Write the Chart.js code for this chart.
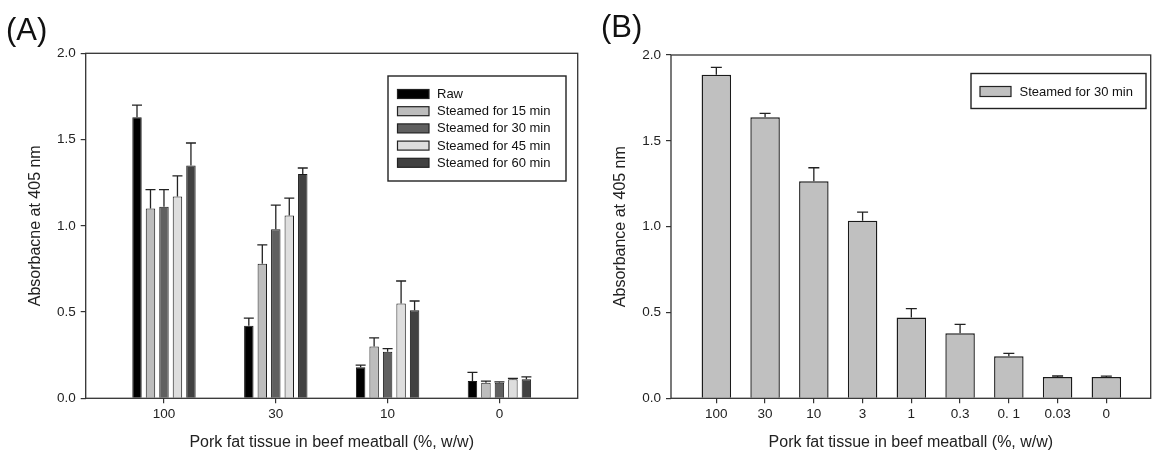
<!DOCTYPE html>
<html>
<head>
<meta charset="utf-8">
<script src="https://cdn.jsdelivr.net/npm/chart.js@4/dist/chart.umd.min.js"></script>
<style>
  html, body { margin: 0; padding: 0; background: #fff; }
  body { width: 1159px; height: 466px; position: relative; overflow: hidden; font-family: "Liberation Sans", Arial, sans-serif; }
  .panel { position: absolute; top: 0; height: 466px; }
  .tag { position: absolute; font-size: 31px; line-height: 31px; color: #111; font-family: "Liberation Sans", Arial, sans-serif; }
</style>
</head>
<body>
<div class="panel" style="left:0;width:580px;"><canvas id="cA" width="580" height="466"></canvas></div>
<div class="panel" style="left:580px;width:579px;"><canvas id="cB" width="579" height="466"></canvas></div>
<div class="tag" style="left:6px;top:14px;">(A)</div>
<div class="tag" style="left:601px;top:11px;">(B)</div>
<script>
// ---------- Panel A data ----------
const catsA = ['100', '30', '10', '0'];
const seriesNamesA = ['Raw', 'Steamed for 15 min', 'Steamed for 30 min', 'Steamed for 45 min', 'Steamed for 60 min'];
const rawA   = [1.63, 0.42, 0.18, 0.10];
const s15A   = [1.10, 0.78, 0.30, 0.09];
const s30A   = [1.11, 0.98, 0.27, 0.09];
const s45A   = [1.17, 1.06, 0.55, 0.11];
const s60A   = [1.35, 1.30, 0.51, 0.11];
const rawErrA = [0.07, 0.045, 0.012, 0.05];
const s15ErrA = [0.11, 0.11, 0.05, 0.01];
const s30ErrA = [0.10, 0.14, 0.018, 0.005];
const s45ErrA = [0.12, 0.10, 0.13, 0.006];
const s60ErrA = [0.13, 0.035, 0.054, 0.014];

// ---------- Panel B data ----------
const catsB = ['100', '30', '10', '3', '1', '0.3', '0. 1', '0.03', '0'];
const seriesNameB = 'Steamed for 30 min';
const valsB = [1.885, 1.637, 1.264, 1.035, 0.47, 0.379, 0.245, 0.124, 0.124];
const errB  = [0.043, 0.023, 0.079, 0.05, 0.052, 0.052, 0.017, 0.006, 0.005];

// ---------- shared ----------
const yTickValues = [0, 0.5, 1.0, 1.5, 2.0];
const FONT = '"Liberation Sans", Arial, sans-serif';
const INK = '#222';

const toXY = (arr) => arr.map((v, i) => ({ x: i, y: v }));

const frameAndErrors = {
  id: 'frameAndErrors',
  afterDatasetsDraw(chart, args, opts) {
    const ctx = chart.ctx;
    const ys = chart.scales.y;
    ctx.save();
    ctx.strokeStyle = INK;
    ctx.lineWidth = 1.3;
    chart.data.datasets.forEach((ds, di) => {
      const meta = chart.getDatasetMeta(di);
      const errs = ds.errors || [];
      meta.data.forEach((el, j) => {
        const v = ds.data[j].y;
        const e = errs[j] || 0;
        const yTop = ys.getPixelForValue(v);
        const yErr = ys.getPixelForValue(v + e);
        const half = opts.cap / 2;
        ctx.beginPath();
        ctx.moveTo(el.x, yTop);
        ctx.lineTo(el.x, yErr);
        ctx.moveTo(el.x - half, yErr);
        ctx.lineTo(el.x + half, yErr);
        ctx.stroke();
      });
    });
    // frame
    const a = chart.chartArea;
    ctx.lineWidth = 1.3;
    ctx.strokeStyle = '#333';
    ctx.strokeRect(a.left, a.top, a.right - a.left, a.bottom - a.top);
    // legend
    const L = opts.legend;
    ctx.fillStyle = '#fff';
    ctx.fillRect(L.x, L.y, L.w, L.h);
    ctx.lineWidth = 1.4;
    ctx.strokeStyle = INK;
    ctx.strokeRect(L.x, L.y, L.w, L.h);
    ctx.font = '13px ' + FONT;
    ctx.textBaseline = 'middle';
    chart.data.datasets.forEach((ds, di) => {
      const cy = L.firstY + di * L.step;
      ctx.fillStyle = ds.backgroundColor;
      ctx.fillRect(L.swX, cy - L.swH / 2, L.swW, L.swH);
      ctx.lineWidth = 1.2;
      ctx.strokeStyle = INK;
      ctx.strokeRect(L.swX, cy - L.swH / 2, L.swW, L.swH);
      ctx.fillStyle = '#111';
      ctx.fillText(ds.label, L.textX, cy + 0.5);
    });
    ctx.restore();
  }
};

function makeOptions(cfg) {
  return {
    responsive: false,
    animation: false,
    devicePixelRatio: 1,
    layout: { padding: { top: cfg.top, right: cfg.right, bottom: cfg.bottom, left: 0 } },
    plugins: {
      legend: { display: false },
      tooltip: { enabled: false },
      frameAndErrors: { cap: cfg.cap, legend: cfg.legend }
    },
    datasets: { bar: { categoryPercentage: cfg.catPct, barPercentage: cfg.barPct, borderSkipped: 'start' } },
    scales: {
      x: {
        type: 'linear',
        min: cfg.xmin, max: cfg.xmax,
        offset: false,
        afterBuildTicks: (s) => { s.ticks = cfg.cats.map((_, i) => ({ value: i })); },
        afterFit: (s) => { s.height = 60; },
        ticks: {
          callback: (v) => cfg.cats[Math.round(v)],
          font: { family: FONT, size: 13.5 },
          color: INK,
          padding: 3,
          maxRotation: 0, autoSkip: false
        },
        grid: { display: true, drawOnChartArea: false, drawTicks: true, tickLength: 5, color: '#333', lineWidth: 1.2, offset: false },
        border: { display: false },
        title: { display: true, text: 'Pork fat tissue in beef meatball (%, w/w)', font: { family: FONT, size: 16 }, color: INK, padding: { top: 0, bottom: 6 } }
      },
      y: {
        min: 0, max: 2,
        afterBuildTicks: (s) => { s.ticks = yTickValues.map(v => ({ value: v })); },
        afterFit: (s) => { s.width = cfg.yWidth; },
        ticks: {
          callback: (v) => Number(v).toFixed(1),
          font: { family: FONT, size: 13.5 },
          color: INK,
          padding: 5
        },
        grid: { display: true, drawOnChartArea: false, drawTicks: true, tickLength: 5, color: '#333', lineWidth: 1.2 },
        border: { display: false },
        title: { display: true, text: cfg.yTitle, font: { family: FONT, size: 16 }, color: INK, padding: { top: cfg.yTitlePad, bottom: 0 } }
      }
    }
  };
}

const colorsA = ['#000000', '#bdbdbd', '#606060', '#dedede', '#414141'];
const valsA = [rawA, s15A, s30A, s45A, s60A];
const errsA = [rawErrA, s15ErrA, s30ErrA, s45ErrA, s60ErrA];

new Chart(document.getElementById('cA'), {
  type: 'bar',
  data: {
    datasets: valsA.map((vals, i) => ({
      label: seriesNamesA[i],
      data: toXY(vals),
      errors: errsA[i],
      backgroundColor: colorsA[i],
      borderColor: '#1a1a1a',
      borderWidth: 1
    }))
  },
  options: makeOptions({
    cats: catsA, xmin: -0.7, xmax: 3.7,
    top: 53.3, right: 2.3, bottom: 7.7, yWidth: 85.7, yTitlePad: 26,
    yTitle: 'Absorbacne at 405 nm',
    catPct: 0.603, barPct: 0.70, cap: 10,
    legend: { x: 388, y: 76, w: 178, h: 105, swX: 397.5, swW: 31.5, swH: 9, firstY: 94, step: 17.2, textX: 437 }
  }),
  plugins: [frameAndErrors]
});

new Chart(document.getElementById('cB'), {
  type: 'bar',
  data: {
    datasets: [{
      label: seriesNameB,
      data: toXY(valsB),
      errors: errB,
      backgroundColor: '#c0c0c0',
      borderColor: '#1a1a1a',
      borderWidth: 1.4
    }]
  },
  options: makeOptions({
    cats: catsB, xmin: -0.93, xmax: 8.91,
    top: 55, right: 8.3, bottom: 7.7, yWidth: 91, yTitlePad: 30.5,
    yTitle: 'Absorbance at 405 nm',
    catPct: 0.605, barPct: 1.0, cap: 11,
    legend: { x: 391, y: 73.5, w: 175, h: 35, swX: 400, swW: 31, swH: 10, firstY: 91.5, step: 17, textX: 439.5 }
  }),
  plugins: [frameAndErrors]
});
</script>
</body>
</html>
